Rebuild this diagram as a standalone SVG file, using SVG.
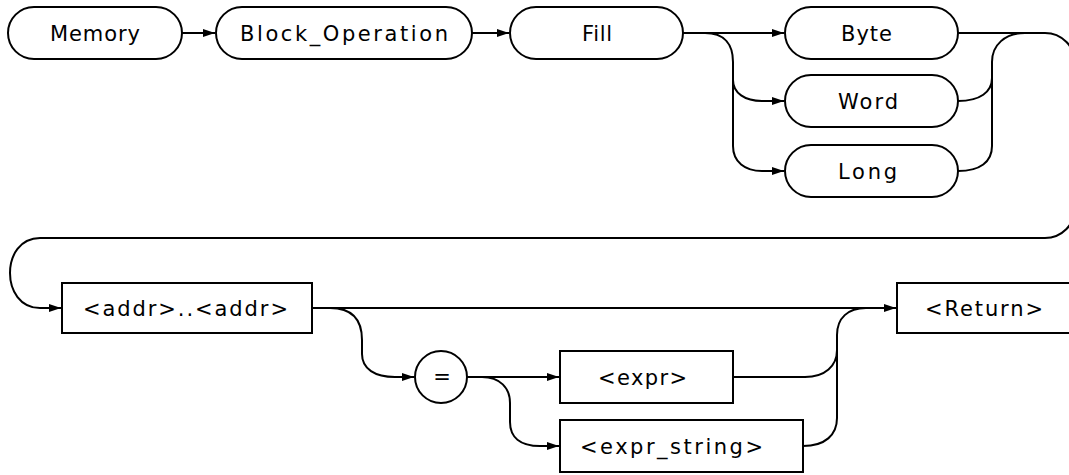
<svg xmlns="http://www.w3.org/2000/svg" width="1069" height="475" viewBox="0 0 1069 475">
<style>
.n{fill:#fff;stroke:#000;stroke-width:2}
.c{fill:none;stroke:#000;stroke-width:2}
.t{font-family:"DejaVu Sans","Liberation Sans",Arial,sans-serif;font-size:21px;fill:#000}
</style>
<defs>
<marker id="a" markerUnits="userSpaceOnUse" markerWidth="13" markerHeight="9" refX="12" refY="4.5" orient="auto"><path d="M0,0.5 L12,4.5 L0,8.5 Z" fill="#000"/></marker>
</defs>
<rect width="1069" height="475" fill="#fff"/>
<g id="connectors">
<path class="c" d="M182 33 H215" marker-end="url(#a)"/>
<path class="c" d="M472 33 H509" marker-end="url(#a)"/>
<path class="c" d="M683 33 H784" marker-end="url(#a)"/>
<path class="c" d="M705 33 C725 33 733 45 733 62 V146 C733 162 745 171 762 171 H784" marker-end="url(#a)"/>
<path class="c" d="M733 80 C733 93 745 101 762 101 H784" marker-end="url(#a)"/>
<path class="c" d="M958 101 C980 101 992 92 992 78"/>
<path class="c" d="M958 171 C980 171 992 162 992 146 V62 C992 45 1005 33 1025 33"/>
<path class="c" d="M958 33 H1045 A30 30 0 0 1 1075 63 V208 A30 30 0 0 1 1045 238 H40 C0 238 0 308 40 308 H61" marker-end="url(#a)"/>
<path class="c" d="M312 308 H896" marker-end="url(#a)"/>
<path class="c" d="M330 308 C352 308 362 320 362 340 V354 C362 369 375 377 395 377 H414" marker-end="url(#a)"/>
<path class="c" d="M467 377 H559" marker-end="url(#a)"/>
<path class="c" d="M482 377 C500 377 510 388 510 403 V422 C510 437 520 446 540 446 H559" marker-end="url(#a)"/>
<path class="c" d="M733 377 H805 C825 377 837 366 837 350 V335 C837 318 848 308 866 308"/>
<path class="c" d="M803 446 C825 446 837 435 837 418 V350"/>
</g>
<g id="memory"><rect class="n" x="8" y="7" width="174" height="52" rx="26" ry="26"/><text class="t" x="50" y="41" textLength="90" lengthAdjust="spacing">Memory</text></g>
<g id="block_operation"><rect class="n" x="216" y="7" width="256" height="52" rx="26" ry="26"/><text class="t" x="240" y="41" textLength="208" lengthAdjust="spacing">Block_Operation</text></g>
<g id="fill"><rect class="n" x="510" y="7" width="173" height="52" rx="26" ry="26"/><text class="t" x="582" y="41" textLength="30" lengthAdjust="spacing">Fill</text></g>
<g id="byte"><rect class="n" x="785" y="7" width="173" height="52" rx="26" ry="26"/><text class="t" x="841" y="41" textLength="51" lengthAdjust="spacing">Byte</text></g>
<g id="word"><rect class="n" x="785" y="75" width="173" height="52" rx="26" ry="26"/><text class="t" x="838" y="109" textLength="60" lengthAdjust="spacing">Word</text></g>
<g id="long"><rect class="n" x="785" y="145" width="173" height="52" rx="26" ry="26"/><text class="t" x="838" y="179" textLength="59" lengthAdjust="spacing">Long</text></g>
<g id="addr"><rect class="n" x="62" y="283" width="250" height="50"/><text class="t" x="83" y="316" textLength="205" lengthAdjust="spacing">&lt;addr&gt;..&lt;addr&gt;</text></g>
<g id="equals"><circle class="n" cx="441" cy="377" r="26"/><text class="t" x="442" y="384" text-anchor="middle">=</text></g>
<g id="expr"><rect class="n" x="560" y="351" width="173" height="52"/><text class="t" x="598" y="385" textLength="89" lengthAdjust="spacing">&lt;expr&gt;</text></g>
<g id="expr_string"><rect class="n" x="560" y="420" width="243" height="52"/><text class="t" x="580" y="454" textLength="183" lengthAdjust="spacing">&lt;expr_string&gt;</text></g>
<g id="return"><rect class="n" x="897" y="283" width="180" height="50"/><text class="t" x="925" y="316" textLength="118" lengthAdjust="spacing">&lt;Return&gt;</text></g>
</svg>
